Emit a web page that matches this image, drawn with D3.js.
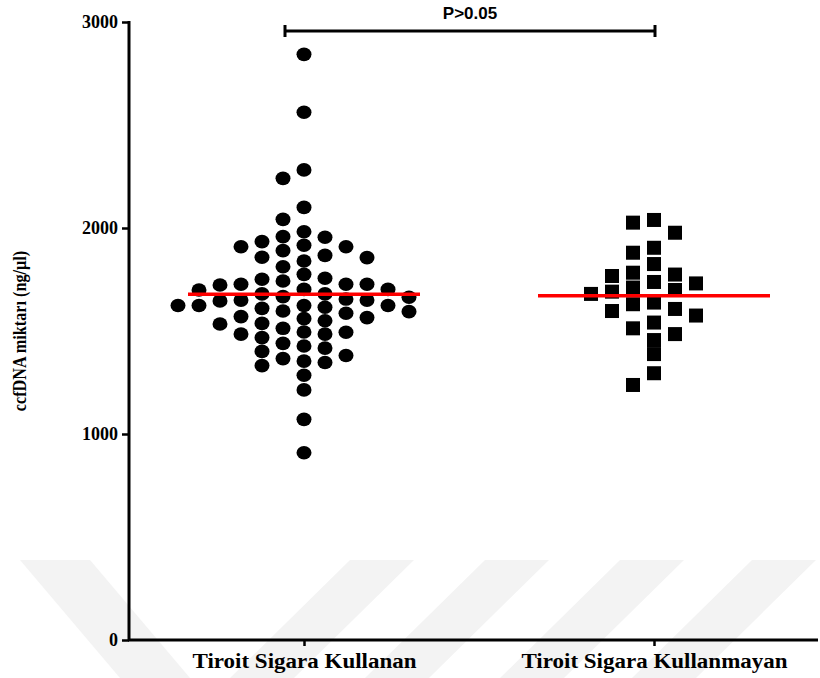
<!DOCTYPE html>
<html>
  <body style="margin:0;background:#fff">
    <script src="https://d3js.org/d3.v7.min.js"></script>
    <script type="text/javascript">
      // ccfDNA scatter (Prism-style column scatter) for two groups
      const width = 820;
      const height = 678;

      const categories = ['Tiroit Sigara Kullanan', 'Tiroit Sigara Kullanmayan'];
      const yTicks = [0, 1000, 2000, 3000];

      // group 1: smokers (circles)
      const kullanan = [
        2843, 2562, 2282, 2241, 2100, 2042, 1982, 1955, 1934, 1958,
        1909, 1890, 1858, 1840, 1856, 1867, 1909, 1916, 1812, 1775,
        1751, 1727, 1723, 1727, 1702, 1727, 1743, 1756, 1702, 1680,
        1667, 1655, 1680, 1699, 1664, 1650, 1646, 1650, 1624, 1624,
        1624, 1624, 1610, 1594, 1615, 1597, 1586, 1565, 1550, 1534,
        1537, 1560, 1570, 1495, 1485, 1468, 1427, 1440, 1485, 1494,
        1513, 1401, 1366, 1347, 1332, 1354, 1285, 1381, 1417, 1214,
        1071, 909
      ];
      // group 2: non-smokers (squares)
      const kullanmayan = [
        2026, 2039, 1977, 1880, 1904, 1825, 1783, 1774, 1767, 1738,
        1731, 1711, 1691, 1699, 1680, 1638, 1607, 1597, 1630, 1575,
        1541, 1513, 1456, 1485, 1388, 1295, 1238
      ];
      const means = [1678, 1671];
      const pLabel = 'P>0.05';

      const serif = '"Liberation Serif", "Times New Roman", serif';

      const svg = d3.select('body')
        .append('svg')
        .attr('width', width)
        .attr('height', height)
        .style('display', 'block');

      // faint watermark stripes in the background
      const stripe = svg.append('g').attr('fill', '#f3f3f3');
      stripe.append('path').attr('d', 'M20,560 L90,560 L190,678 L120,678 Z');
      [350, 485, 620, 752].forEach((x0) => {
        stripe.append('path')
          .attr('d', `M${x0},560 L${x0 + 64},560 L${x0 - 56},678 L${x0 - 120},678 Z`);
      });

      const x = d3.scalePoint()
        .domain(categories)
        .range([129, 829])
        .padding(0.5);

      const y = d3.scaleLinear()
        .domain([0, 3000])
        .range([640, 22]);

      // simple column swarm: place each value in the nearest free slot
      function swarm(values, step, minDy) {
        const order = values.map((v, i) => i).sort((a, b) => values[b] - values[a]);
        const slots = new Array(values.length);
        const placed = [];
        order.forEach((i) => {
          const py = y(values[i]);
          for (let k = 0; k < 40; k++) {
            const s = k === 0 ? 0 : (k % 2 ? -Math.ceil(k / 2) : Math.ceil(k / 2));
            const hit = placed.some((p) => p.s === s && Math.abs(p.y - py) < minDy);
            if (!hit) {
              placed.push({ s: s, y: py });
              slots[i] = s * step;
              return;
            }
          }
        });
        return slots;
      }

      // axes
      const yAxis = svg.append('g')
        .attr('transform', 'translate(129,0)')
        .call(d3.axisLeft(y).tickValues(yTicks).tickSize(7).tickPadding(4).tickFormat(d3.format('d')));
      yAxis.select('.domain').remove();
      yAxis.selectAll('line').attr('stroke', '#000').attr('stroke-width', 2.5);
      yAxis.selectAll('text')
        .attr('font-family', serif)
        .attr('font-weight', 'bold')
        .attr('font-size', 18)
        .attr('fill', '#000');
      svg.append('line')
        .attr('x1', 129).attr('x2', 129)
        .attr('y1', y(3000) - 1).attr('y2', y(0) + 1)
        .attr('stroke', '#000').attr('stroke-width', 3);

      const xAxis = svg.append('g')
        .attr('transform', 'translate(0,640)')
        .call(d3.axisBottom(x).tickSize(6).tickPadding(8));
      xAxis.select('.domain').remove();
      xAxis.selectAll('line').attr('stroke', '#000').attr('stroke-width', 2.5);
      // labels are drawn a bit wider, as in the source figure
      xAxis.selectAll('.tick text')
        .attr('font-family', serif)
        .attr('font-weight', 'bold')
        .attr('font-size', 20)
        .attr('fill', '#000')
        .attr('transform', 'scale(1.15,1)')
        .attr('x', 0);
      svg.append('line')
        .attr('x1', 128).attr('x2', 818)
        .attr('y1', 640).attr('y2', 640)
        .attr('stroke', '#000').attr('stroke-width', 3);

      svg.append('text')
        .attr('transform', `translate(26,${y(1500)}) rotate(-90) scale(0.9,1)`)
        .attr('text-anchor', 'middle')
        .attr('font-family', serif)
        .attr('font-weight', 'bold')
        .attr('font-size', 18)
        .text('ccfDNA miktarı (ng/µl)');

      // points
      const off1 = swarm(kullanan, 21, 13);
      svg.append('g').selectAll('ellipse')
        .data(kullanan)
        .join('ellipse')
        .attr('cx', (d, i) => x(categories[0]) + off1[i])
        .attr('cy', (d) => y(d))
        .attr('rx', 7.5)
        .attr('ry', 6.8)
        .attr('fill', '#000');

      const off2 = swarm(kullanmayan, 21, 14);
      svg.append('g').selectAll('rect')
        .data(kullanmayan)
        .join('rect')
        .attr('x', (d, i) => x(categories[1]) + off2[i] - 7)
        .attr('y', (d) => y(d) - 7)
        .attr('width', 14)
        .attr('height', 14)
        .attr('fill', '#000');

      // mean lines
      svg.append('g').selectAll('line')
        .data(means)
        .join('line')
        .attr('x1', (d, i) => x(categories[i]) - 116)
        .attr('x2', (d, i) => x(categories[i]) + 116)
        .attr('y1', (d) => y(d))
        .attr('y2', (d) => y(d))
        .attr('stroke', '#ff0000')
        .attr('stroke-width', 3.5);

      // significance bracket
      const bx1 = x(categories[0]) - 19;
      const bx2 = x(categories[1]) + 1;
      const by = 31;
      const br = svg.append('g').attr('stroke', '#000').attr('stroke-width', 3);
      br.append('line').attr('x1', bx1).attr('x2', bx2).attr('y1', by).attr('y2', by);
      br.append('line').attr('x1', bx1).attr('x2', bx1).attr('y1', by - 6).attr('y2', by + 6);
      br.append('line').attr('x1', bx2).attr('x2', bx2).attr('y1', by - 6).attr('y2', by + 6);
      svg.append('text')
        .attr('x', (bx1 + bx2) / 2)
        .attr('y', 19)
        .attr('text-anchor', 'middle')
        .attr('font-family', '"Liberation Sans", Arial, sans-serif')
        .attr('font-weight', 'bold')
        .attr('font-size', 17)
        .text(pLabel);
    </script>
  </body>
</html>
